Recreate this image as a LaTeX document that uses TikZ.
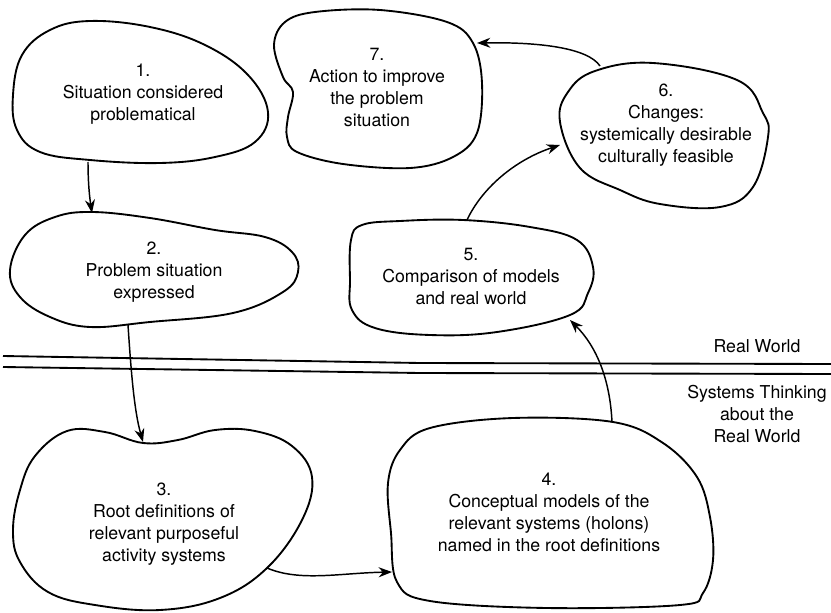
\documentclass[tikz,border=0pt]{standalone}
\usepackage{fontspec}
\setmainfont{TeX Gyre Heros}
\usetikzlibrary{arrows.meta}
\begin{document}
\begin{tikzpicture}[x=0.75pt,y=-0.75pt,
  blob/.style={draw=black,line width=1.4pt,line join=round},
  conn/.style={draw=black,line width=1.1pt,-{Stealth[length=10pt,width=7.5pt]}},
  sep/.style={draw=black,line width=1.4pt},
  txt/.style={anchor=north,align=center,inner sep=0pt,font=\fontsize{13.3}{16.5}\selectfont}]
\useasboundingbox (0,0) rectangle (831,613);

% separating double line
\draw[sep] (3,356) -- (420,363) -- (831,364);
\draw[sep] (3,367) -- (420,373) -- (831,374);

% blob 1
\draw[blob] plot[smooth cycle,tension=0.65] coordinates {(13,95) (22,55) (50,30) (90,21) (150,27) (205,45) (248,75) (268,112) (255,142) (215,157) (160,163) (90,160) (40,152) (17,130)};
% blob 2
\draw[blob] plot[smooth cycle,tension=0.65] coordinates {(10,270) (25,235) (55,217) (92,212) (150,218) (215,230) (265,237) (292,252) (298,272) (283,292) (233,313) (150,322) (90,327) (50,317) (20,297)};
% blob 3
\draw[blob] plot[smooth cycle,tension=0.65] coordinates {(13,530) (20,490) (35,456) (67,431) (105,432) (143,443) (178,440) (215,430) (255,431) (292,446) (312,477) (302,520) (267,568) (220,598) (160,610) (95,605) (48,592) (20,562)};
% blob 4
\draw[blob] plot[smooth cycle,tension=0.6] coordinates {(388,483) (400,450) (430,428) (513,418) (613,422) (663,443) (697,477) (710,517) (713,560) (703,593) (680,605) (547,608) (430,601) (397,582) (391,533)};
% blob 5
\draw[blob] plot[smooth cycle,tension=0.65] coordinates {(351,240) (362,225) (400,221) (463,220) (530,227) (577,240) (593,267) (588,293) (570,315) (497,332) (430,335) (375,328) (352,310) (350,280)};
% blob 6
\draw[blob] plot[smooth cycle,tension=0.65] coordinates {(560,122) (568,92) (595,71) (653,63) (737,80) (763,113) (768,137) (753,187) (720,207) (660,204) (620,190) (580,168)};
% blob 7
\draw[blob] plot[smooth cycle,tension=0.6] coordinates {(274,45) (283,77) (293,92) (288,117) (287,137) (297,152) (343,164) (410,168) (453,157) (477,133) (482,83) (473,43) (447,22) (380,10) (315,12) (285,22)};

% texts
\node[txt] (t1) at (143,63.4) {1.\\Situation considered\\problematical};
\node[txt] (t2) at (154,241.4) {2.\\Problem situation\\expressed};
\node[txt] (t3) at (164,482.4) {3.\\Root definitions of\\relevant purposeful\\activity systems};
\node[txt] (t4) at (549,472.4) {4.\\Conceptual models of the\\relevant systems (holons)\\named in the root definitions};
\node[txt] (t5) at (471,248.4) {5.\\Comparison of models\\and real world};
\node[txt] (t6) at (666,83.4) {6.\\Changes:\\systemically desirable\\culturally feasible};
\node[txt] (t7) at (377,48.4) {7.\\Action to improve\\the problem\\situation};
\node[txt] (rw) at (757,339.3) {Real World};
\node[txt] (st) at (757,384.7) {Systems Thinking\\about the\\Real World};

% connector end points on the blob outlines
\coordinate (o1) at (88,162);
\coordinate (i2) at (92,213);
\coordinate (o2) at (128,325);
\coordinate (i3) at (143,442);
\coordinate (o3) at (267,568);
\coordinate (i4) at (392,572);
\coordinate (o4) at (612,422);
\coordinate (i5) at (570,320);
\coordinate (o5) at (467,220);
\coordinate (i6) at (560,145);
\coordinate (o6) at (600,66);
\coordinate (i7) at (477,43);

\draw[conn] (o1) .. controls (88,185) and (90,200) .. (i2);
\draw[conn] (o2) .. controls (131,370) and (134,410) .. (i3);
\draw[conn] (o3) .. controls (300,582) and (340,573) .. (i4);
\draw[conn] (o4) .. controls (610,380) and (597,347) .. (i5);
\draw[conn] (o5) .. controls (482,188) and (515,160) .. (i6);
\draw[conn] (o6) .. controls (588,48) and (540,42) .. (i7);
\end{tikzpicture}
\end{document}
